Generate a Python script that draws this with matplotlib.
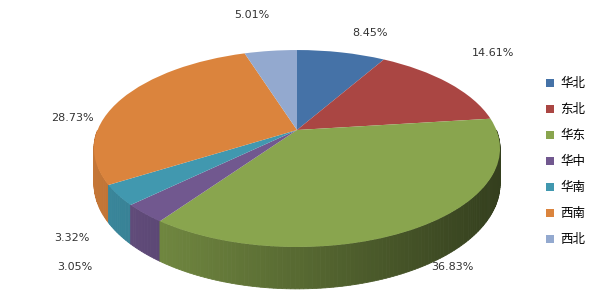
import numpy as np
import matplotlib
matplotlib.use("Agg")
import matplotlib.pyplot as plt
from matplotlib.patches import Patch
from matplotlib.transforms import Transform

regions = ["华北", "东北", "华东", "华中", "华南", "西南", "西北"]
shares = [8.45, 14.61, 36.83, 3.05, 3.32, 28.73, 5.01]
colors = ["#4572a7", "#aa4643", "#89a54e", "#71588f", "#4198af", "#db843d", "#93a9cf"]

# label anchor points in pixels (x from left, y from top)
label_px = [(370, 33), (493, 53), (452, 267), (75, 267), (72, 238), (72, 118), (252, 15)]

W, H = 598, 293
cx, cy = 297, H - 130      # where the slices meet (axes units = pixels, y up)
rx, ry = 199.4, 95.0
k = 0.188                  # perspective strength
D = 34                     # side height


class Tilt(Transform):
    """unit circle -> tilted disc seen in perspective"""
    input_dims = output_dims = 2

    def transform_non_affine(self, xy):
        xy = np.asarray(xy, float)
        s = 1 / (1 + k * xy[:, 1])
        return np.column_stack([cx + rx * xy[:, 0] * s, cy + ry * xy[:, 1] * s])


tilt = Tilt()

fig = plt.figure(figsize=(W / 100, H / 100), dpi=100)
ax = fig.add_axes([0, 0, 1, 1])

wedges, _ = ax.pie(shares, colors=colors, startangle=90, counterclock=False,
                   radius=1, wedgeprops=dict(linewidth=0))
for w in wedges:
    w.set_transform(tilt + ax.transData)
    w.set_zorder(3)


def shade(c, x):
    f = 0.9 - 0.52 * (x + 1) / 2
    r, g, b = matplotlib.colors.to_rgb(c)
    return (r * f, g * f, b * f)


# side wall, far pieces first
quads = []
cum = np.concatenate([[0], np.cumsum(shares)]) / sum(shares)
for i, c in enumerate(colors):
    a0 = 90 - 360 * cum[i]
    a1 = 90 - 360 * cum[i + 1]
    th = np.radians(np.linspace(a0, a1, max(int(abs(a1 - a0)), 2) + 1))
    for t0, t1 in zip(th[:-1], th[1:]):
        vm = np.sin((t0 + t1) / 2)
        if vm >= 0:
            continue
        top = tilt.transform(np.array([[np.cos(t0), np.sin(t0)], [np.cos(t1), np.sin(t1)]]))
        s = 1 / (1 + k * np.array([np.sin(t0), np.sin(t1)]))
        xs = [top[0, 0], top[1, 0], top[1, 0], top[0, 0]]
        ys = [top[0, 1], top[1, 1], top[1, 1] - D * s[1], top[0, 1] - D * s[0]]
        col = shade(c, (np.mean(xs) - cx) / 203)
        quads.append((vm, xs, ys, col))

for vm, xs, ys, col in sorted(quads, key=lambda q: -q[0]):
    ax.fill(xs, ys, color=col, lw=0.6, ec=col, zorder=2)

ax.set_aspect("auto")
ax.set_xlim(0, W)
ax.set_ylim(0, H)
ax.axis("off")

for (px, py), v in zip(label_px, shares):
    ax.text(px, H - py, f"{v:.2f}%", ha="center", va="center",
            fontsize=8, color="#333333", family="DejaVu Sans")

handles = [Patch(facecolor=c, edgecolor="none") for c in colors]
leg = fig.legend(handles, regions, loc="upper left", bbox_to_anchor=(540 / W, 1 - 71 / H),
                 frameon=False, handlelength=0.6, handleheight=0.6, handletextpad=0.5,
                 labelspacing=1.04, borderpad=0, prop={"family": "Noto Sans CJK SC", "size": 9})

fig.savefig("out.png", dpi=100)
